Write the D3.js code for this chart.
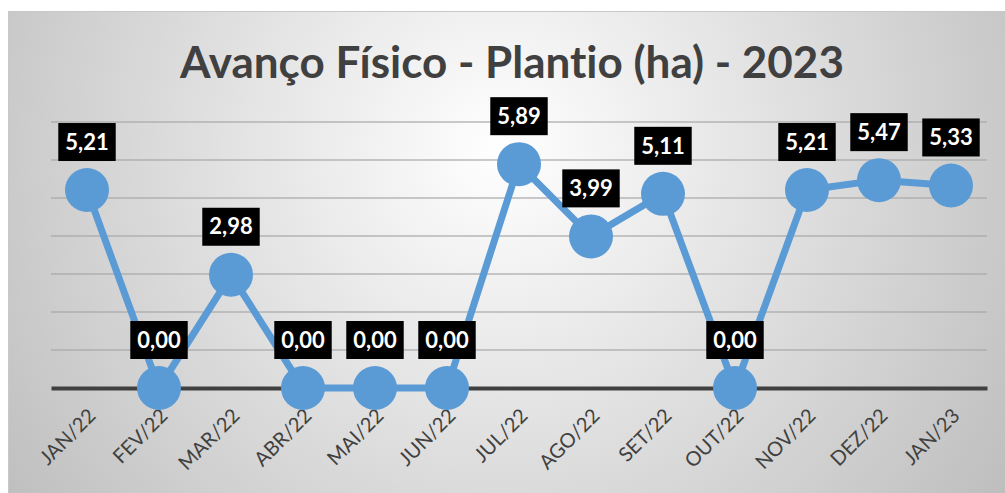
<!DOCTYPE html>
<html lang="pt">
<head>
<meta charset="UTF-8">
<title>Avanço Físico - Plantio (ha) - 2023</title>
<script src="https://cdnjs.cloudflare.com/ajax/libs/d3/7.8.5/d3.min.js"></script>
<style>
    body { margin: 0; background: #fff; overflow: hidden; }
    svg { display: block; }
    text { font-variant-ligatures: none; }
</style>
</head>
<body>
<div id="chart"></div>
<script>
    // chart data
    const months = ["JAN/22", "FEV/22", "MAR/22", "ABR/22", "MAI/22", "JUN/22", "JUL/22",
                    "AGO/22", "SET/22", "OUT/22", "NOV/22", "DEZ/22", "JAN/23"];
    const plantio = [5.21, 0, 2.98, 0, 0, 0, 5.89, 3.99, 5.11, 0, 5.21, 5.47, 5.33];
    const gridValues = [1, 2, 3, 4, 5, 6, 7];
    const chartTitle = "Avanço Físico - Plantio (ha) - 2023";

    const width = 1005, height = 493;
    const margin = { left: 51, right: 18, top: 122, bottom: 105 };
    const fmt = v => v.toFixed(2).replace(".", ",");

    const svg = d3.select("#chart").append("svg")
        .attr("width", width)
        .attr("height", height);

    const defs = svg.append("defs");
    const grad = defs.append("radialGradient")
        .attr("id", "bg")
        .attr("gradientUnits", "userSpaceOnUse")
        .attr("cx", 500).attr("cy", 150).attr("r", 620);
    grad.append("stop").attr("offset", "0%").attr("stop-color", "#ffffff");
    grad.append("stop").attr("offset", "100%").attr("stop-color", "#bdbdbd");

    svg.append("rect")
        .attr("x", 8.5).attr("y", 11.5)
        .attr("width", width).attr("height", height)
        .attr("fill", "url(#bg)")
        .attr("stroke", "#c8c8c8");

    svg.append("text")
        .attr("x", 512).attr("y", 78)
        .attr("text-anchor", "middle")
        .style("font-family", "Lato, 'Open Sans', sans-serif")
        .style("font-weight", 700)
        .style("font-size", "44px")
        .attr("fill", "#404040")
        .text(chartTitle);

    const x = d3.scaleBand()
        .domain(months)
        .range([margin.left, width - margin.right]);

    const y = d3.scaleLinear()
        .domain([0, 7])
        .range([height - margin.bottom, margin.top]);

    // gridlines
    svg.append("g")
        .selectAll("line")
        .data(gridValues)
        .join("line")
        .attr("x1", margin.left).attr("x2", width - margin.right)
        .attr("y1", d => y(d)).attr("y2", d => y(d))
        .attr("stroke", "#a6a6a6")
        .attr("stroke-opacity", 0.6)
        .attr("stroke-width", 2);

    // category axis
    const xAxis = svg.append("g")
        .attr("transform", `translate(0,${y(0)})`)
        .call(d3.axisBottom(x).tickSize(0).tickPadding(0));
    xAxis.select(".domain")
        .attr("stroke", "#404040")
        .attr("stroke-width", 4);
    xAxis.selectAll(".tick text")
        .style("font-family", "Lato, 'Open Sans', sans-serif")
        .style("font-size", "20px")
        .attr("fill", "#404040")
        .attr("text-anchor", "end")
        .attr("dy", null)
        .attr("y", 0)
        .attr("transform", "translate(10,29) rotate(-45)");

    const cx = (d, i) => x(months[i]) + x.bandwidth() / 2;

    const line = d3.line()
        .x((d, i) => cx(d, i))
        .y(d => y(d));

    svg.append("path")
        .datum(plantio)
        .attr("d", line)
        .attr("fill", "none")
        .attr("stroke", "#5b9bd5")
        .attr("stroke-width", 7)
        .attr("stroke-linejoin", "round");

    svg.append("g")
        .selectAll("circle")
        .data(plantio)
        .join("circle")
        .attr("cx", cx)
        .attr("cy", d => y(d))
        .attr("r", 22)
        .attr("fill", "#5b9bd5");

    // data labels
    const labels = svg.append("g")
        .selectAll("g")
        .data(plantio)
        .join("g")
        .attr("transform", (d, i) => `translate(${cx(d, i)},${y(d) - 48})`);

    labels.append("text")
        .attr("text-anchor", "middle")
        .attr("dy", "0.35em")
        .style("font-family", "Lato, 'Open Sans', sans-serif")
        .style("font-weight", 700)
        .style("font-size", "22px")
        .attr("fill", "#ffffff")
        .text(d => fmt(d));

    labels.each(function() {
        const g = d3.select(this);
        const w = g.select("text").node().getComputedTextLength() + 14;
        g.insert("rect", "text")
            .attr("x", -w / 2).attr("y", -19)
            .attr("width", w).attr("height", 38)
            .attr("fill", "#000");
    });
</script>
</body>
</html>
